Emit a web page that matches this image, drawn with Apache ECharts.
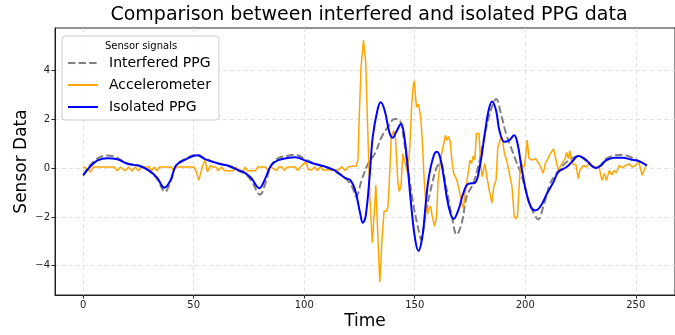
<!DOCTYPE html>
<html>
<head>
<meta charset="utf-8">
<script src="https://cdn.jsdelivr.net/npm/echarts@6/dist/echarts.min.js"></script>
<style>
  html, body {margin: 0; padding: 0; background: #fff;}
  #chart {width: 675px; height: 335px;}
</style>
</head>
<body>
<div id="chart"></div>
<script>
// values, as [time, value]
const interferedPPG = [
  [0,-0.3],[3,0.1],[6.5,0.4],[11,0.52],[15,0.45],[20,0.2],[25.6,0.1],[30,-0.12],[33.5,-0.45],[37,-0.97],
  [39.5,-0.55],[42,0.1],[46.5,0.4],[51.5,0.56],[55.4,0.38],[61.6,0.18],[66,0.08],[70.5,-0.12],[73,-0.22],[76,-0.5],
  [80,-1.08],[82.5,-0.6],[85,0.1],[88,0.4],[93,0.52],[96,0.55],[100.8,0.35],[105,0.18],[109.7,0.04],[114,-0.15],
  [118.6,-0.41],[121.6,-0.75],[123.5,-1.16],[126,-0.48],[129,0.2],[132,0.6],[135,1.28],[137.9,1.69],[140.9,2.02],[142.5,2.0],
  [143.8,1.85],[146,0.6],[149,-1.29],[152,-2.65],[152.8,-2.92],[155,-1.84],[157.9,-0.62],[160.1,0.06],[161.6,0.2],[163.9,-0.62],
  [166.8,-1.97],[169,-2.72],[171.3,-2.24],[173.5,-1.16],[176.5,-0.62],[178.7,0.06],[180.9,1.01],[183.1,1.96],[185.4,2.63],[186.8,2.84],
  [189,2.23],[191.3,1.42],[193.5,0.87],[195.7,0.33],[198,-0.21],[200.2,-0.89],[202.4,-1.56],[204.6,-1.97],[205.8,-2.1],[208.4,-1.5],
  [211.3,-0.62],[213.5,-0.3],[215.7,-0.02],[218.7,0.25],[221,0.4],[224,0.48],[226.9,0.35],[229.9,0.12],[232,0.03],[234.3,0.15],
  [236.5,0.38],[240.2,0.52],[244,0.55],[247.7,0.45],[251.4,0.3],[255,0.12]
];

const accelerometer = [
  [0,0.05],[1,0.02],[2,-0.05],[3.5,-0.15],[4.5,0.05],[14,0.05],[15.4,-0.1],[16.8,0.05],[19,-0.1],[20.5,0.05],
  [22,-0.12],[23.5,0.05],[25,-0.1],[26.5,0.05],[30,0.05],[31,-0.12],[32,0.05],[33.5,-0.1],[34.5,0.05],[40,0.05],
  [41,-0.12],[42,0.05],[50,0.05],[51,-0.1],[52.3,-0.5],[53,-0.45],[54,0.1],[55.2,0.32],[56.2,-0.15],[57.5,0.1],
  [58.5,0.05],[60,0.05],[61,-0.1],[62.5,0.05],[64,-0.1],[68,-0.1],[69,0.05],[70,-0.1],[72.5,-0.1],[73.3,0.05],
  [74.2,-0.1],[78,-0.1],[79,0.05],[82.5,0.05],[83.7,-0.1],[84.8,0.05],[87.4,-0.1],[88.5,0.05],[90,0.05],[91,-0.1],
  [92.3,0.05],[96,0.05],[97,-0.1],[98.2,0.05],[100.8,0.26],[101.8,-0.05],[103.3,-0.07],[104.7,0.06],[106,-0.1],[107.3,0.06],
  [108.5,-0.07],[115.5,-0.07],[117,0.06],[118.6,-0.1],[120,0.06],[123.5,0.09],[124.3,0.33],[125,2.37],[125.7,4.13],[126.8,5.25],
  [127.8,4.4],[128.7,1.69],[129.7,-1.16],[130.8,-3.06],[131.7,-1.84],[132.4,-0.7],[133.1,-2.3],[134.2,-4.68],[135.2,-2.92],[136.1,-1.77],
  [137.2,-1.77],[137.9,-1.56],[138.6,-0.35],[139.4,1.28],[140.5,1.55],[141.3,1.2],[142.3,-0.48],[143,-0.96],[143.8,-0.75],[144.6,0.6],
  [145.3,0.33],[146.8,-0.2],[147.8,0.9],[148.5,2.4],[149.3,3.38],[149.8,3.58],[150.8,2.5],[151.7,2.63],[152.7,2.09],[153.5,1.01],
  [154.2,-0.35],[155,-1.43],[155.7,-1.9],[156.4,-1.65],[157.2,-1.56],[157.9,-1.97],[159,-2.38],[159.9,-1.97],[160.5,-0.62],[161.6,0.33],
  [162.8,0.87],[163.9,1.35],[164.6,1.15],[165.3,1.3],[166.1,1.08],[166.8,0.33],[167.6,-0.21],[169,-0.48],[170.1,-0.89],[171.3,-1.43],
  [172,-1.65],[172.8,-1.02],[173.9,-0.35],[175,0.33],[175.7,0.2],[176.5,0.5],[177.2,0.35],[177.9,1.42],[179.1,1.42],[179.9,0.06],
  [180.6,-0.35],[181.7,0.2],[182.4,-0.21],[183.4,-0.75],[184.3,-0.75],[184.9,-1.43],[185.8,-0.75],[186.8,-0.48],[187.6,0.87],[188.6,1.15],
  [189.5,1.28],[190.6,0.6],[191.6,0.33],[192.8,-0.21],[194,-0.75],[195,-1.97],[195.7,-2.08],[196.5,-1.97],[197.2,-0.75],[198,0.33],
  [198.7,0.06],[199.7,0.06],[200.9,1.15],[201.7,0.4],[203.2,0.33],[204.6,0.4],[205.7,0.26],[206.9,0.06],[208.1,-0.21],[209.1,0.2],
  [210.6,0.45],[211.3,0.6],[212.8,0.79],[213.5,0.5],[215,-0.09],[216.5,0.18],[218,0.39],[218.7,0.65],[219.5,0.39],[220.2,0.72],
  [221,0.25],[221.7,0.15],[222.9,0.15],[224,-0.43],[224.7,-0.09],[226.2,0.11],[227.7,0.05],[229.1,0.25],[230.6,0.05],[232,0.05],
  [233.5,0],[234.7,-0.5],[235.8,-0.22],[236.8,-0.5],[238,-0.09],[239.2,-0.27],[240.2,-0.09],[241.2,-0.2],[242.5,0.11],[244,0.02],
  [245.5,0.11],[247,0.18],[248.4,0.05],[249.9,0.11],[251.4,0.25],[252.9,-0.29],[254.4,0.05],[255,0.18]
];

const isolatedPPG = [
  [0,-0.29],[3,0.05],[6.5,0.32],[11,0.41],[15,0.38],[20,0.18],[25.6,0.09],[30,-0.11],[33.5,-0.4],[36.7,-0.8],
  [39.5,-0.5],[42,0.11],[46.5,0.36],[51.5,0.53],[55.4,0.36],[61.6,0.18],[66,0.09],[70.5,-0.09],[73,-0.18],[76,-0.4],
  [79.7,-0.82],[82,-0.5],[85,0.11],[88,0.32],[93,0.43],[96,0.45],[100.8,0.3],[105,0.17],[109.7,0.06],[114,-0.1],
  [118.6,-0.41],[120.8,-0.48],[123,-0.89],[125.3,-1.84],[126.5,-2.24],[127.8,-1.97],[129.7,-0.21],[131,1.28],[133.1,2.37],[134.6,2.7],
  [136.4,2.37],[138.6,1.45],[140.1,1.25],[141.6,1.48],[143.8,1.82],[145.3,1.28],[146.8,0.06],[148.3,-1.43],[150.2,-2.92],[151.7,-3.39],
  [153.5,-2.78],[155,-1.43],[156.4,-0.35],[158.7,0.54],[160.1,0.67],[161.6,0.4],[163.1,-0.35],[165.3,-1.56],[167.6,-2.08],[169.8,-1.7],
  [172,-1.02],[174.2,-0.64],[177.2,-0.6],[179.4,0.06],[181.7,1.42],[183.4,2.37],[185,2.74],[186.8,2.37],[188.3,1.55],[190.6,1.08],
  [192.8,1.15],[195,1.35],[196.5,1.01],[198,0.2],[200.2,-0.89],[202.4,-1.56],[204.6,-1.73],[206.9,-1.56],[209.8,-1.05],[212.8,-0.56],
  [215,-0.15],[218.7,0.05],[221,0.25],[224,0.5],[226.9,0.39],[229.9,0.11],[232,0.01],[234.3,0.11],[236.5,0.32],[240.2,0.43],
  [244,0.43],[247.7,0.36],[251.4,0.29],[255,0.11]
];

const xTicks = [0, 50, 100, 150, 200, 250];
const yTicks = [-4, -2, 0, 2, 4];

const font = 'DejaVu Sans';
const minus = v => String(v).replace('-', '\u2212');

const myChart = echarts.init(document.getElementById('chart'));
myChart.setOption({
  animation: false,
  textStyle: {fontFamily: font},
  grid: {left: 55, top: 28, width: 630, height: 269, show: true, borderColor: '#222', borderWidth: 1},
  graphic: [
    {type: 'text', x: 369, y: 6, z: 100,
      style: {text: 'Comparison between interfered and isolated PPG data', font: '19px DejaVu Sans', fill: '#000', textAlign: 'center'}},
    {type: 'text', x: 141, y: 41, z: 100,
      style: {text: 'Sensor signals', font: '10px DejaVu Sans', fill: '#000', textAlign: 'center'}}
  ],
  legend: {
    orient: 'vertical', left: 62, top: 36,
    padding: [20, 8, 6, 5], itemGap: 8, itemWidth: 30, itemHeight: 14,
    backgroundColor: 'rgba(255,255,255,0.85)', borderColor: '#cccccc', borderWidth: 1, borderRadius: 3,
    itemStyle: {opacity: 0},
    textStyle: {fontFamily: font, fontSize: 14, color: '#000', padding: [0, 0, 0, 6]},
    data: ['Interfered PPG', 'Accelerometer', 'Isolated PPG']
  },
  xAxis: {
    type: 'value', min: -12.75, max: 267.75,
    name: 'Time', nameLocation: 'middle', nameGap: 18, nameMoveOverlap: false,
    nameTextStyle: {fontFamily: font, fontSize: 17, color: '#000'},
    axisLine: {onZero: false, lineStyle: {color: '#222'}},
    axisTick: {length: 3.5, lineStyle: {color: '#222'}, customValues: xTicks},
    axisLabel: {fontFamily: font, fontSize: 10, color: '#222', margin: 5, customValues: xTicks},
    splitLine: {lineStyle: {color: '#dadada', type: [4, 3], width: 0.8}}
  },
  yAxis: {
    type: 'value', min: -5.2, max: 5.75,
    name: 'Sensor Data', nameLocation: 'middle', nameGap: 25, nameMoveOverlap: false,
    nameTextStyle: {fontFamily: font, fontSize: 17, color: '#000'},
    axisLine: {show: true, onZero: false, lineStyle: {color: '#222'}},
    axisTick: {show: true, length: 3.5, lineStyle: {color: '#222'}, customValues: yTicks},
    axisLabel: {fontFamily: font, fontSize: 10, color: '#222', margin: 5, customValues: yTicks, formatter: minus},
    splitLine: {lineStyle: {color: '#dadada', type: [4, 3], width: 0.8}}
  },
  series: [
    {
      name: 'Interfered PPG', type: 'line', data: interferedPPG,
      symbol: 'none', smooth: 0.4,
      lineStyle: {color: '#808080', width: 2, type: [7.4, 3.2]},
      itemStyle: {color: '#808080'}
    },
    {
      name: 'Accelerometer', type: 'line', data: accelerometer,
      symbol: 'none',
      lineStyle: {color: '#ffa500', width: 1.5},
      itemStyle: {color: '#ffa500'}
    },
    {
      name: 'Isolated PPG', type: 'line', data: isolatedPPG,
      symbol: 'none', smooth: 0.4,
      lineStyle: {color: '#0000ff', width: 2},
      itemStyle: {color: '#0000ff'}
    }
  ]
});
</script>
</body>
</html>
